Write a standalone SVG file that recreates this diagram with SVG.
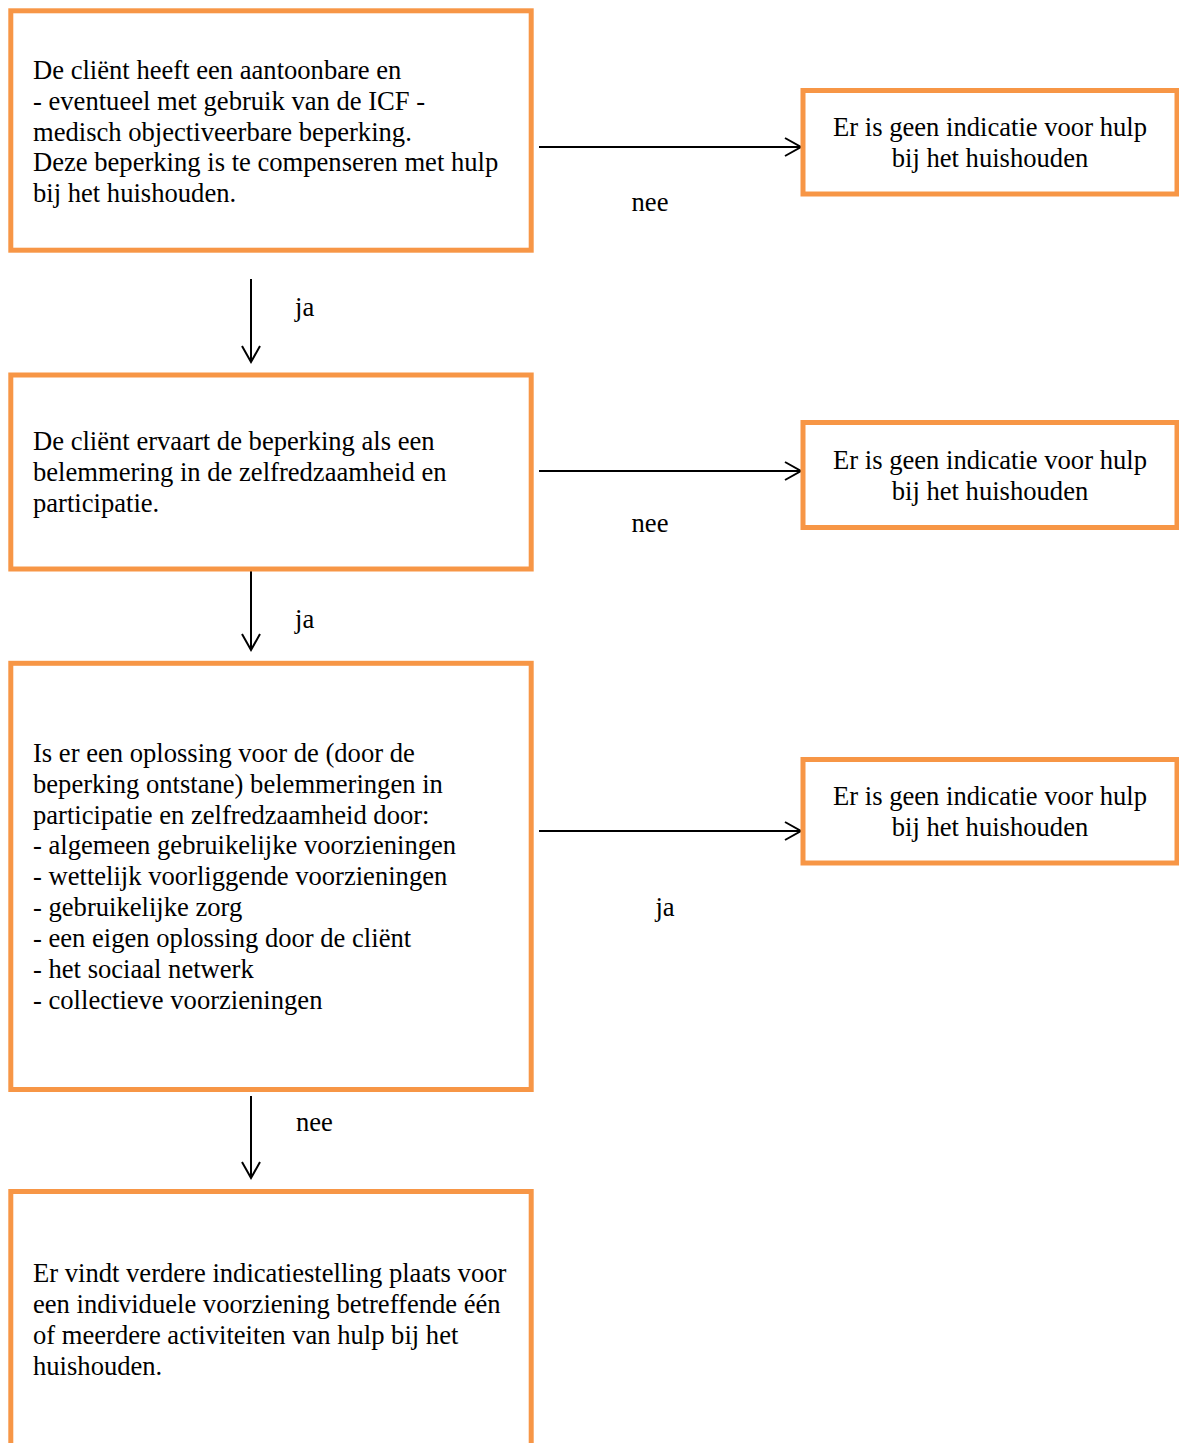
<svg xmlns="http://www.w3.org/2000/svg" width="1179" height="1443" viewBox="0 0 1179 1443">
<style>
.box{fill:#fff;stroke:#F79646;stroke-width:5}
.t{font-family:"Liberation Serif","Times New Roman",serif;font-size:26.6px;fill:#000}
.c{text-anchor:middle}
.con{stroke:#000;stroke-width:2;fill:none;marker-end:url(#arr)}
</style>
<defs>
<marker id="arr" markerUnits="userSpaceOnUse" markerWidth="22" markerHeight="24" refX="19" refY="12" orient="auto" viewBox="0 0 22 24">
<path d="M3,3 L19,12 L3,21" fill="none" stroke="#000" stroke-width="2"/>
</marker>
</defs>
<rect width="1179" height="1443" fill="#fff"/>
<g id="connectors">
<line class="con" x1="539" y1="147" x2="801" y2="147"/>
<line class="con" x1="539" y1="471" x2="801" y2="471"/>
<line class="con" x1="539" y1="831" x2="801" y2="831"/>
<line class="con" x1="251" y1="279" x2="251" y2="362"/>
<line class="con" x1="251" y1="567" x2="251" y2="650"/>
<line class="con" x1="251" y1="1096" x2="251" y2="1178"/>
<text class="t c" x="650" y="211">nee</text>
<text class="t c" x="650" y="532">nee</text>
<text class="t c" x="665" y="916">ja</text>
<text class="t" x="295" y="316">ja</text>
<text class="t" x="295" y="628">ja</text>
<text class="t" x="296" y="1131">nee</text>
</g>
<g id="node1">
<rect class="box" x="10.8" y="10.8" width="520.4" height="239.4"/>
<text class="t" x="33" y="79">De cliënt heeft een aantoonbare en</text>
<text class="t" x="33" y="110">- eventueel met gebruik van de ICF -</text>
<text class="t" x="33" y="141">medisch objectiveerbare beperking.</text>
<text class="t" x="33" y="171">Deze beperking is te compenseren met hulp</text>
<text class="t" x="33" y="202">bij het huishouden.</text>
</g>
<g id="node2">
<rect class="box" x="10.8" y="375" width="520.4" height="194"/>
<text class="t" x="33" y="450">De cliënt ervaart de beperking als een</text>
<text class="t" x="33" y="481">belemmering in de zelfredzaamheid en</text>
<text class="t" x="33" y="512">participatie.</text>
</g>
<g id="node3">
<rect class="box" x="10.8" y="663.3" width="520.4" height="426.2"/>
<text class="t" x="33" y="762">Is er een oplossing voor de (door de</text>
<text class="t" x="33" y="793">beperking ontstane) belemmeringen in</text>
<text class="t" x="33" y="824">participatie en zelfredzaamheid door:</text>
<text class="t" x="33" y="854">- algemeen gebruikelijke voorzieningen</text>
<text class="t" x="33" y="885">- wettelijk voorliggende voorzieningen</text>
<text class="t" x="33" y="916">- gebruikelijke zorg</text>
<text class="t" x="33" y="947">- een eigen oplossing door de cliënt</text>
<text class="t" x="33" y="978">- het sociaal netwerk</text>
<text class="t" x="33" y="1009">- collectieve voorzieningen</text>
</g>
<g id="node4">
<rect class="box" x="10.8" y="1191.5" width="520.4" height="300"/>
<text class="t" x="33" y="1282">Er vindt verdere indicatiestelling plaats voor</text>
<text class="t" x="33" y="1313">een individuele voorziening betreffende één</text>
<text class="t" x="33" y="1344">of meerdere activiteiten van hulp bij het</text>
<text class="t" x="33" y="1375">huishouden.</text>
</g>
<g id="node5">
<rect class="box" x="803" y="90.5" width="374" height="103.5"/>
<text class="t c" x="990" y="136">Er is geen indicatie voor hulp</text>
<text class="t c" x="990" y="167">bij het huishouden</text>
</g>
<g id="node6">
<rect class="box" x="803" y="422.5" width="374" height="105"/>
<text class="t c" x="990" y="469">Er is geen indicatie voor hulp</text>
<text class="t c" x="990" y="500">bij het huishouden</text>
</g>
<g id="node7">
<rect class="box" x="803" y="759.5" width="374" height="103.5"/>
<text class="t c" x="990" y="805">Er is geen indicatie voor hulp</text>
<text class="t c" x="990" y="836">bij het huishouden</text>
</g>
</svg>
